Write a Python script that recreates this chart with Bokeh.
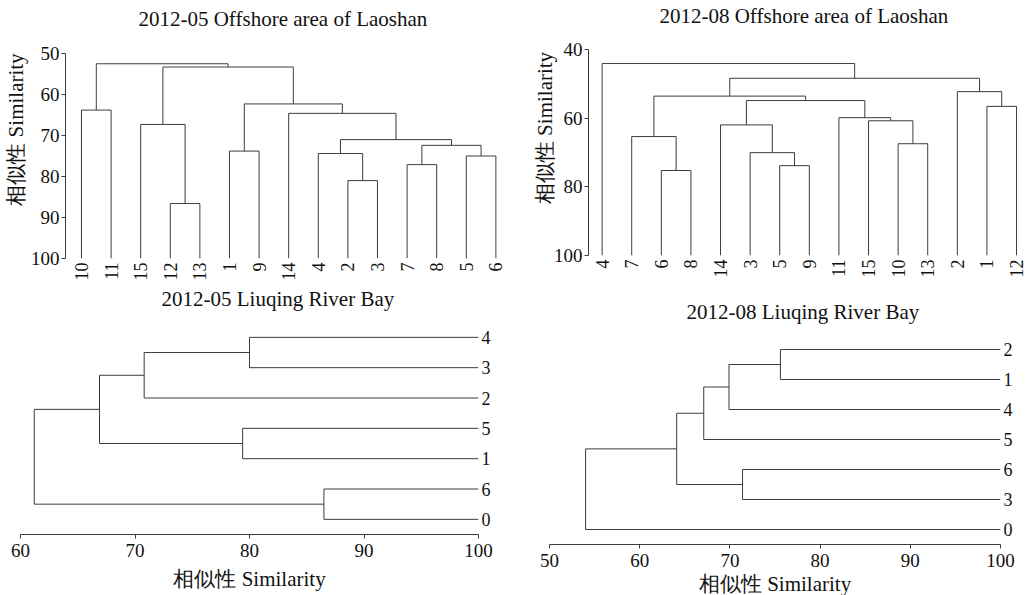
import math
from bokeh.plotting import figure
from bokeh.models import Range1d, FixedTicker, Label
from bokeh.layouts import column, row
from bokeh.embed import file_html
from bokeh.resources import INLINE

SERIF = "Liberation Serif"
LINE = "#3c3c3c"
TXT = "#111111"
YLABEL = "相似性 Similarity"

# ---- 2012-05 Offshore area of Laoshan (leaves in display order) ----
a_title = "2012-05  Offshore area of Laoshan"
a_leaves = ["10", "11", "15", "12", "13", "1", "9", "14", "4", "2", "3", "7", "8", "5", "6"]
a_left = [0, 3, 2, 5, 9, 8, 11, 13, 21, 20, 7, 18, 17, 15]
a_right = [1, 4, 16, 6, 10, 19, 12, 14, 22, 23, 24, 25, 26, 27]
a_height = [63.8, 86.6, 67.3, 73.8, 81.0, 74.4, 77.1, 75.0, 72.4, 71.0, 64.6, 62.3, 53.3, 52.5]
a_yticks = [50, 60, 70, 80, 90, 100]

# ---- 2012-08 Offshore area of Laoshan ----
b_title = "2012-08  Offshore area of Laoshan"
b_leaves = ["4", "7", "6", "8", "14", "3", "5", "9", "11", "15", "10", "13", "2", "1", "12"]
b_left = [2, 1, 6, 5, 4, 10, 9, 8, 19, 16, 13, 12, 24, 0]
b_right = [3, 15, 7, 17, 18, 11, 20, 21, 22, 23, 14, 25, 26, 27]
b_height = [75.2, 65.3, 73.8, 70.0, 61.9, 67.4, 60.7, 59.8, 54.8, 53.5, 56.5, 52.2, 48.3, 44.0]
b_yticks = [40, 60, 80, 100]

# ---- 2012-05 Liuqing River Bay (leaves bottom to top) ----
c_title = "2012-05  Liuqing River Bay"
c_leaves = ["0", "6", "1", "5", "2", "3", "4"]
c_left = [5, 4, 2, 8, 0, 10]
c_right = [6, 7, 3, 9, 1, 11]
c_height = [80.0, 70.8, 79.4, 66.9, 86.5, 61.2]
c_xticks = [60, 70, 80, 90, 100]

# ---- 2012-08 Liuqing River Bay ----
d_title = "2012-08  Liuqing River Bay"
d_leaves = ["0", "3", "6", "5", "4", "1", "2"]
d_left = [5, 4, 3, 1, 9, 0]
d_right = [6, 7, 8, 2, 10, 11]
d_height = [75.6, 69.9, 67.1, 71.4, 64.1, 54.0]
d_xticks = [50, 60, 70, 80, 90, 100]


def dendro_lines(n, left, right, height, base=100.0):
    pos = [float(i) for i in range(n)]
    lev = [base] * n
    ps, vs = [], []
    for l, r, h in zip(left, right, height):
        pl, pr = pos[l], pos[r]
        ps.append([pl, pl, pr, pr])
        vs.append([lev[l], h, h, lev[r]])
        pos.append((pl + pr) / 2.0)
        lev.append(h)
    return ps, vs


def add_title(p, text, x, y):
    # x, y: screen offsets from the frame's bottom-left corner (inside the frame)
    p.add_layout(Label(x=x, y=y, x_units="screen", y_units="screen", text=text,
                       text_font=SERIF, text_font_size="21px", text_color=TXT,
                       text_align="center", text_baseline="middle"))


def base_fig(fw, fh, bl, br, bt, bb, xr, yr, yloc="left"):
    p = figure(frame_width=fw, frame_height=fh, min_border_left=bl, min_border_right=br,
               min_border_top=bt, min_border_bottom=bb, x_range=xr, y_range=yr,
               output_backend="svg", toolbar_location=None, y_axis_location=yloc,
               title=None)
    p.outline_line_color = None
    p.xgrid.visible = False
    p.ygrid.visible = False
    p.background_fill_color = "white"
    p.border_fill_color = "white"
    return p


def style_axis_num(ax, ticks, bounds, lab_standoff, axl_standoff):
    ax.ticker = FixedTicker(ticks=ticks)
    ax.bounds = bounds
    ax.axis_line_color = LINE
    ax.major_tick_line_color = LINE
    ax.major_tick_out = 4
    ax.major_tick_in = 0
    ax.minor_tick_line_color = None
    ax.major_label_text_font = SERIF
    ax.major_label_text_font_size = "19px"
    ax.major_label_text_color = TXT
    ax.major_label_standoff = lab_standoff
    ax.axis_label = YLABEL
    ax.axis_label_text_font = SERIF
    ax.axis_label_text_font_size = "21px"
    ax.axis_label_text_font_style = "normal"
    ax.axis_label_text_color = TXT
    ax.axis_label_standoff = axl_standoff


def style_axis_leaf(ax, leaves, orient, standoff):
    ax.ticker = FixedTicker(ticks=list(range(len(leaves))))
    ax.major_label_overrides = {i: s for i, s in enumerate(leaves)}
    ax.axis_line_color = None
    ax.major_tick_line_color = None
    ax.major_tick_out = 0
    ax.major_tick_in = 0
    ax.minor_tick_line_color = None
    ax.major_label_text_font = SERIF
    ax.major_label_text_font_size = "18px"
    ax.major_label_text_color = TXT
    ax.major_label_orientation = orient
    ax.major_label_standoff = standoff


def top_panel(title, leaves, left, right, height, yticks, ymin, pxu, x0, fw, fh,
              bl, br, bb, tpos, axl_so):
    n = len(leaves)
    ytop = 100 - fh / pxu
    p = base_fig(fw, fh, bl, br, 0, bb, Range1d(x0, x0 + fw / 29.6), Range1d(100, ytop))
    xs, ys = dendro_lines(n, left, right, height)
    p.multi_line(xs, ys, line_color=LINE, line_width=1)
    style_axis_leaf(p.xaxis[0], leaves, math.pi / 2, 4)
    style_axis_num(p.yaxis[0], yticks, (ymin, 100), 2, axl_so)
    add_title(p, title, tpos[0], tpos[1])
    return p


def bottom_panel(title, leaves, left, right, height, xticks, xmin, pxu, fw, fh,
                 bl, br, bb, tpos, lab_so, axl_so):
    n = len(leaves)
    ytop = -0.5 + fh / pxu
    p = base_fig(fw, fh, bl, br, 0, bb, Range1d(xmin, 100), Range1d(-0.5, ytop), yloc="right")
    ps, vs = dendro_lines(n, left, right, height)
    p.multi_line(vs, ps, line_color=LINE, line_width=1)
    style_axis_leaf(p.yaxis[0], leaves, "horizontal", 3)
    style_axis_num(p.xaxis[0], xticks, (xmin, 100), lab_so, axl_so)
    add_title(p, title, tpos[0], tpos[1])
    return p


# top row height 285; bottom row 310 (total 595); widths sum to 1029
pa = top_panel(a_title, a_leaves, a_left, a_right, a_height, a_yticks, 50, 4.1,
               -0.54, 448, 258, 64, 8, 27, (220, 240), 0)
pb = top_panel(b_title, b_leaves, b_left, b_right, b_height, b_yticks, 40, 3.428,
               -0.46, 438, 255, 67, 4, 30, (218, 240), -6)
pc = bottom_panel(c_title, c_leaves, c_left, c_right, c_height, c_xticks, 60, 30.33,
                  458, 249, 20, 52, 61, (260, 236), 5, 7)
pd = bottom_panel(d_title, d_leaves, d_left, d_right, d_height, d_xticks, 50, 30.0,
                  451, 259, 19, 29, 51, (256, 233), 5, 2)

layout = column(row(column(pa), column(pb), spacing=0),
                row(column(pc), column(pd), spacing=0), spacing=0)
open("out.html", "w").write(file_html(layout, INLINE))
